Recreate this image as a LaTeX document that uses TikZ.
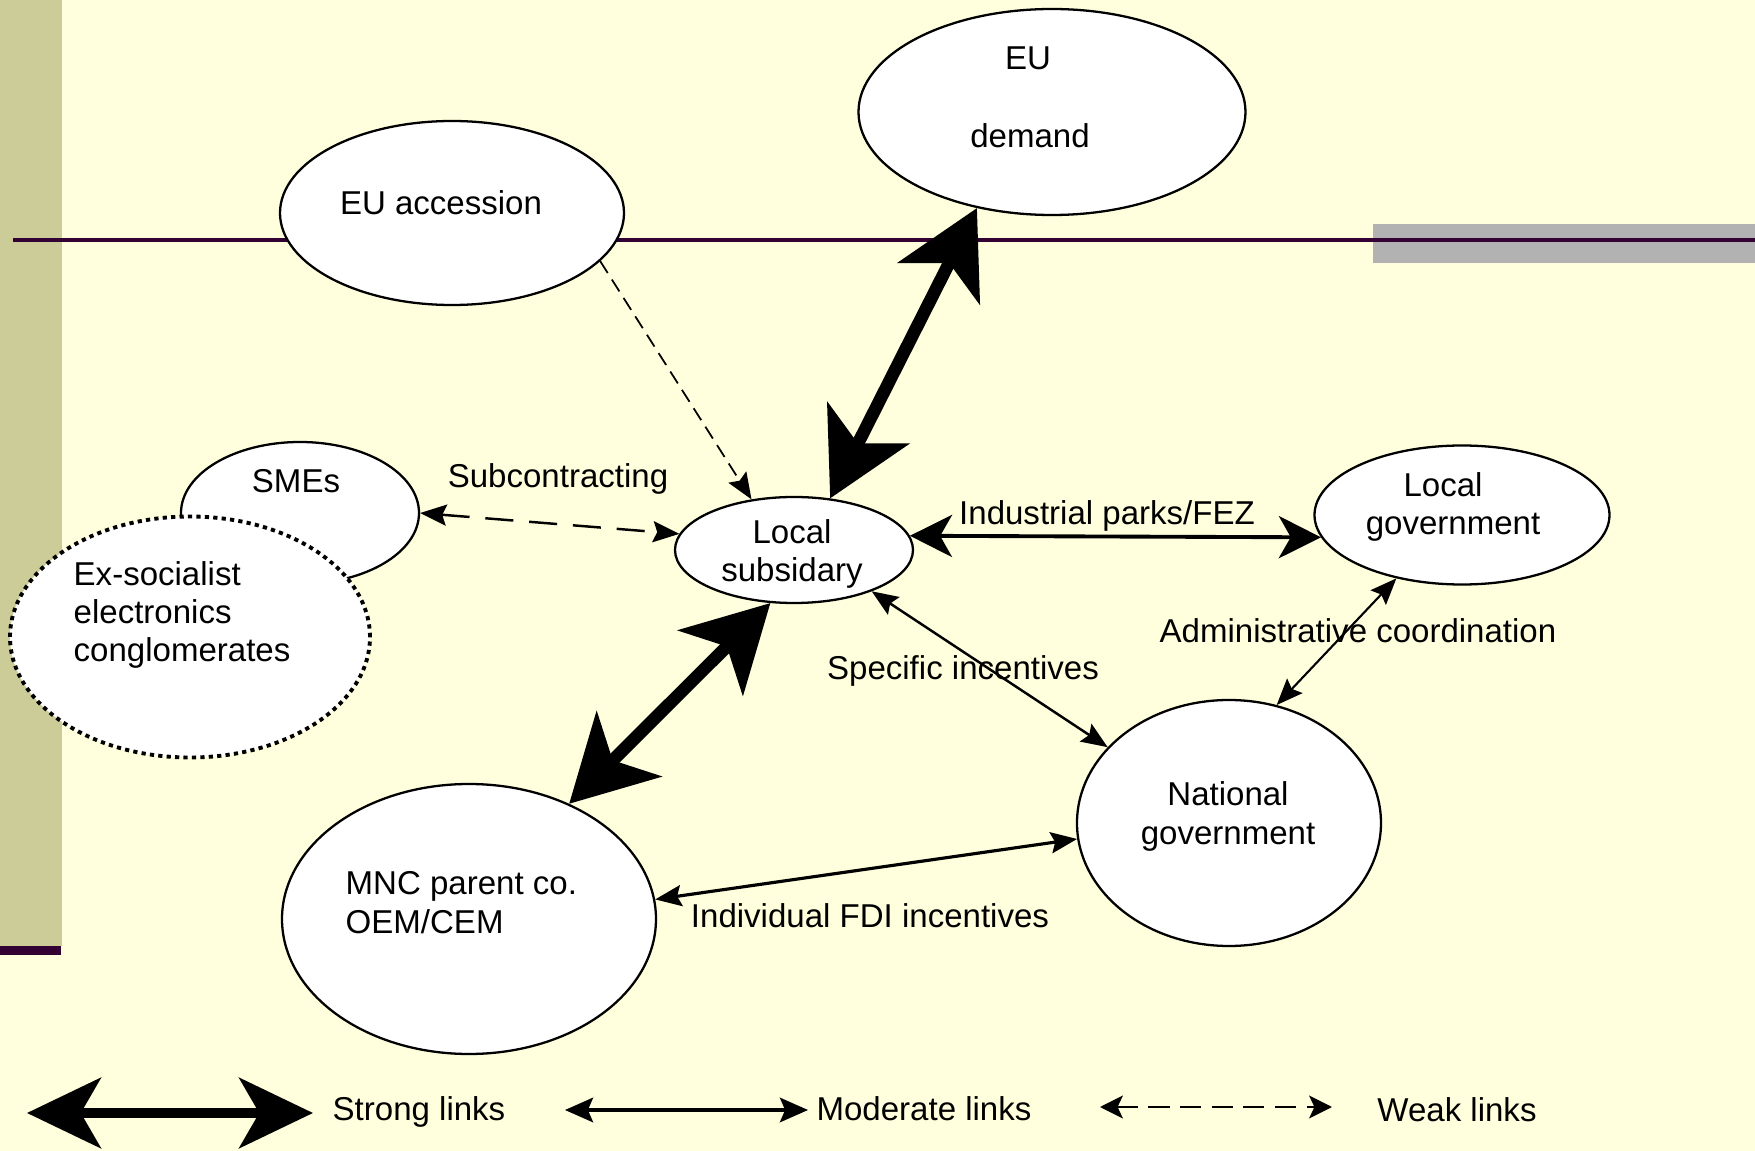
\documentclass[tikz,border=0pt]{standalone}
\usepackage{fontspec}
\setmainfont{Liberation Sans}
\usetikzlibrary{arrows.meta, shapes.geometric}
\definecolor{paper}{HTML}{FFFFDD}
\definecolor{sidebar}{HTML}{CCCC99}
\definecolor{plum}{HTML}{330033}
\definecolor{greybar}{HTML}{B2B2B2}

\begin{document}
\begin{tikzpicture}[x=0.1mm, y=-0.1mm,
font=\fontsize{9.4}{10.95}\selectfont,
blob/.style={
  ellipse, draw, line width=0.65pt,
  fill=white, inner sep=0pt
},
txt/.style={anchor=base, inner sep=0pt, align=center},
strong/.style={line width=3.6pt,
  >={Stealth[length=24pt, width=26pt, inset=6.5pt]}, <->},
park/.style={line width=1.1pt,
  >={Stealth[length=12pt, width=12pt, inset=3.4pt]}, <->},
moderate/.style={line width=0.7pt,
  >={Stealth[length=7.5pt, width=6pt, inset=1.2pt]}, <->},
weak/.style={line width=0.7pt, dash pattern=on 8pt off 4.5pt,
  >={Stealth[length=7.5pt, width=6pt, inset=1.2pt]}, <->}
]
% page
\useasboundingbox (0,0) rectangle (1755,1151);
\fill[paper] (0,0) rectangle (1755,1151);
\fill[sidebar] (0,0) rectangle (62,946);
\fill[plum] (0,946) rectangle (61,955);
\fill[greybar] (1373,224) rectangle (1755,263);
\draw[plum, line width=1.1pt] (13,240) -- (1755,240);

% actors
\node[blob, minimum width=34.4mm, minimum height=18.4mm] (acc) at (452,213) {};
\node[blob, minimum width=38.7mm, minimum height=20.6mm] (dem) at (1052,112) {};
\node[blob, minimum width=23.8mm, minimum height=14.2mm] (smes) at (300,513) {};
\node[blob, line width=1.1pt, dash pattern=on 1.2pt off 1.2pt,
  minimum width=36mm, minimum height=24.1mm] (exs) at (190,637) {};
\node[blob, minimum width=23.8mm, minimum height=10.6mm] (sub) at (794,550) {};
\node[blob, minimum width=29.5mm, minimum height=13.9mm] (lgov) at (1462,515) {};
\node[blob, minimum width=30.4mm, minimum height=24.6mm] (ngov) at (1229,823) {};
\node[blob, minimum width=37.4mm, minimum height=27mm] (mnc) at (469,919) {};

% multi-line texts sit on their last baseline
\node[txt] (acc-t) at (441,215) {EU accession};
\node[txt] (dem-t1) at (1028,70) {EU};
\node[txt] (dem-t2) at (1030,148) {demand};
\node[txt] (smes-t) at (296,493) {SMEs};
\node[txt, align=left, anchor=base west] (exs-t) at (73,662)
  {Ex-socialist\\electronics\\conglomerates};
\node[txt] (sub-t) at (792,582) {Local\\subsidary};
\node[txt] (lgov-t1) at (1443,497) {Local};
\node[txt] (lgov-t2) at (1453,535) {government};
\node[txt] (ngov-t) at (1228,844) {National\\government};
\node[txt, align=left, anchor=base west] (mnc-t) at (345,933)
  {MNC parent co.\\OEM/CEM};

% link labels
\node[txt] (subc-l) at (558,488) {Subcontracting};
\node[txt] (park-l) at (1107,525) {Industrial parks/FEZ};
\node[txt] (spec-l) at (963,680) {Specific incentives};
\node[txt] (adm-l) at (1358,642) {Administrative coordination};
\node[txt] (fdi-l) at (870,928) {Individual FDI incentives};

% links
\draw[weak, line width=0.5pt, dash pattern=on 4pt off 2.2pt, -> ] (acc.-18.6) -- (sub.130);
\draw[strong] (dem.-128.3) -- (sub.55.8);
\draw[strong] (sub.-114.4) -- (mnc.49.3);
\draw[weak] (smes.0) -- (sub.172.5);
\draw[park] (sub.7.6) -- (lgov.189.5);
\draw[moderate] (sub.-28.9) -- (ngov.148.9);
\draw[moderate, line width=0.6pt] (lgov.-136) -- (ngov.68.8);
\draw[moderate, line width=0.9pt] (ngov.-174.1) -- (mnc.6.3);

% legend
\coordinate (ls1) at (27,1113);
\coordinate (ls2) at (313,1113);
\coordinate (lm1) at (565,1110);
\coordinate (lm2) at (808,1110);
\coordinate (lw1) at (1100,1107);
\coordinate (lw2) at (1332,1107);
\draw[strong, line width=2.6pt,
  >={Stealth[length=21pt, width=20pt, inset=5.7pt]}] (ls1) -- (ls2);
\draw[moderate, line width=0.9pt,
  >={Stealth[length=8pt, width=7pt, inset=1.5pt]}] (lm1) -- (lm2);
\draw[weak, dash pattern=on 6pt off 3pt,
  >={Stealth[length=6.5pt, width=6.5pt, inset=1.5pt]}] (lw1) -- (lw2);
\node[txt] (ls-t) at (419,1120) {Strong links};
\node[txt] (lm-t) at (924,1120) {Moderate links};
\node[txt] (lw-t) at (1457,1121) {Weak links};
\end{tikzpicture}
\end{document}
